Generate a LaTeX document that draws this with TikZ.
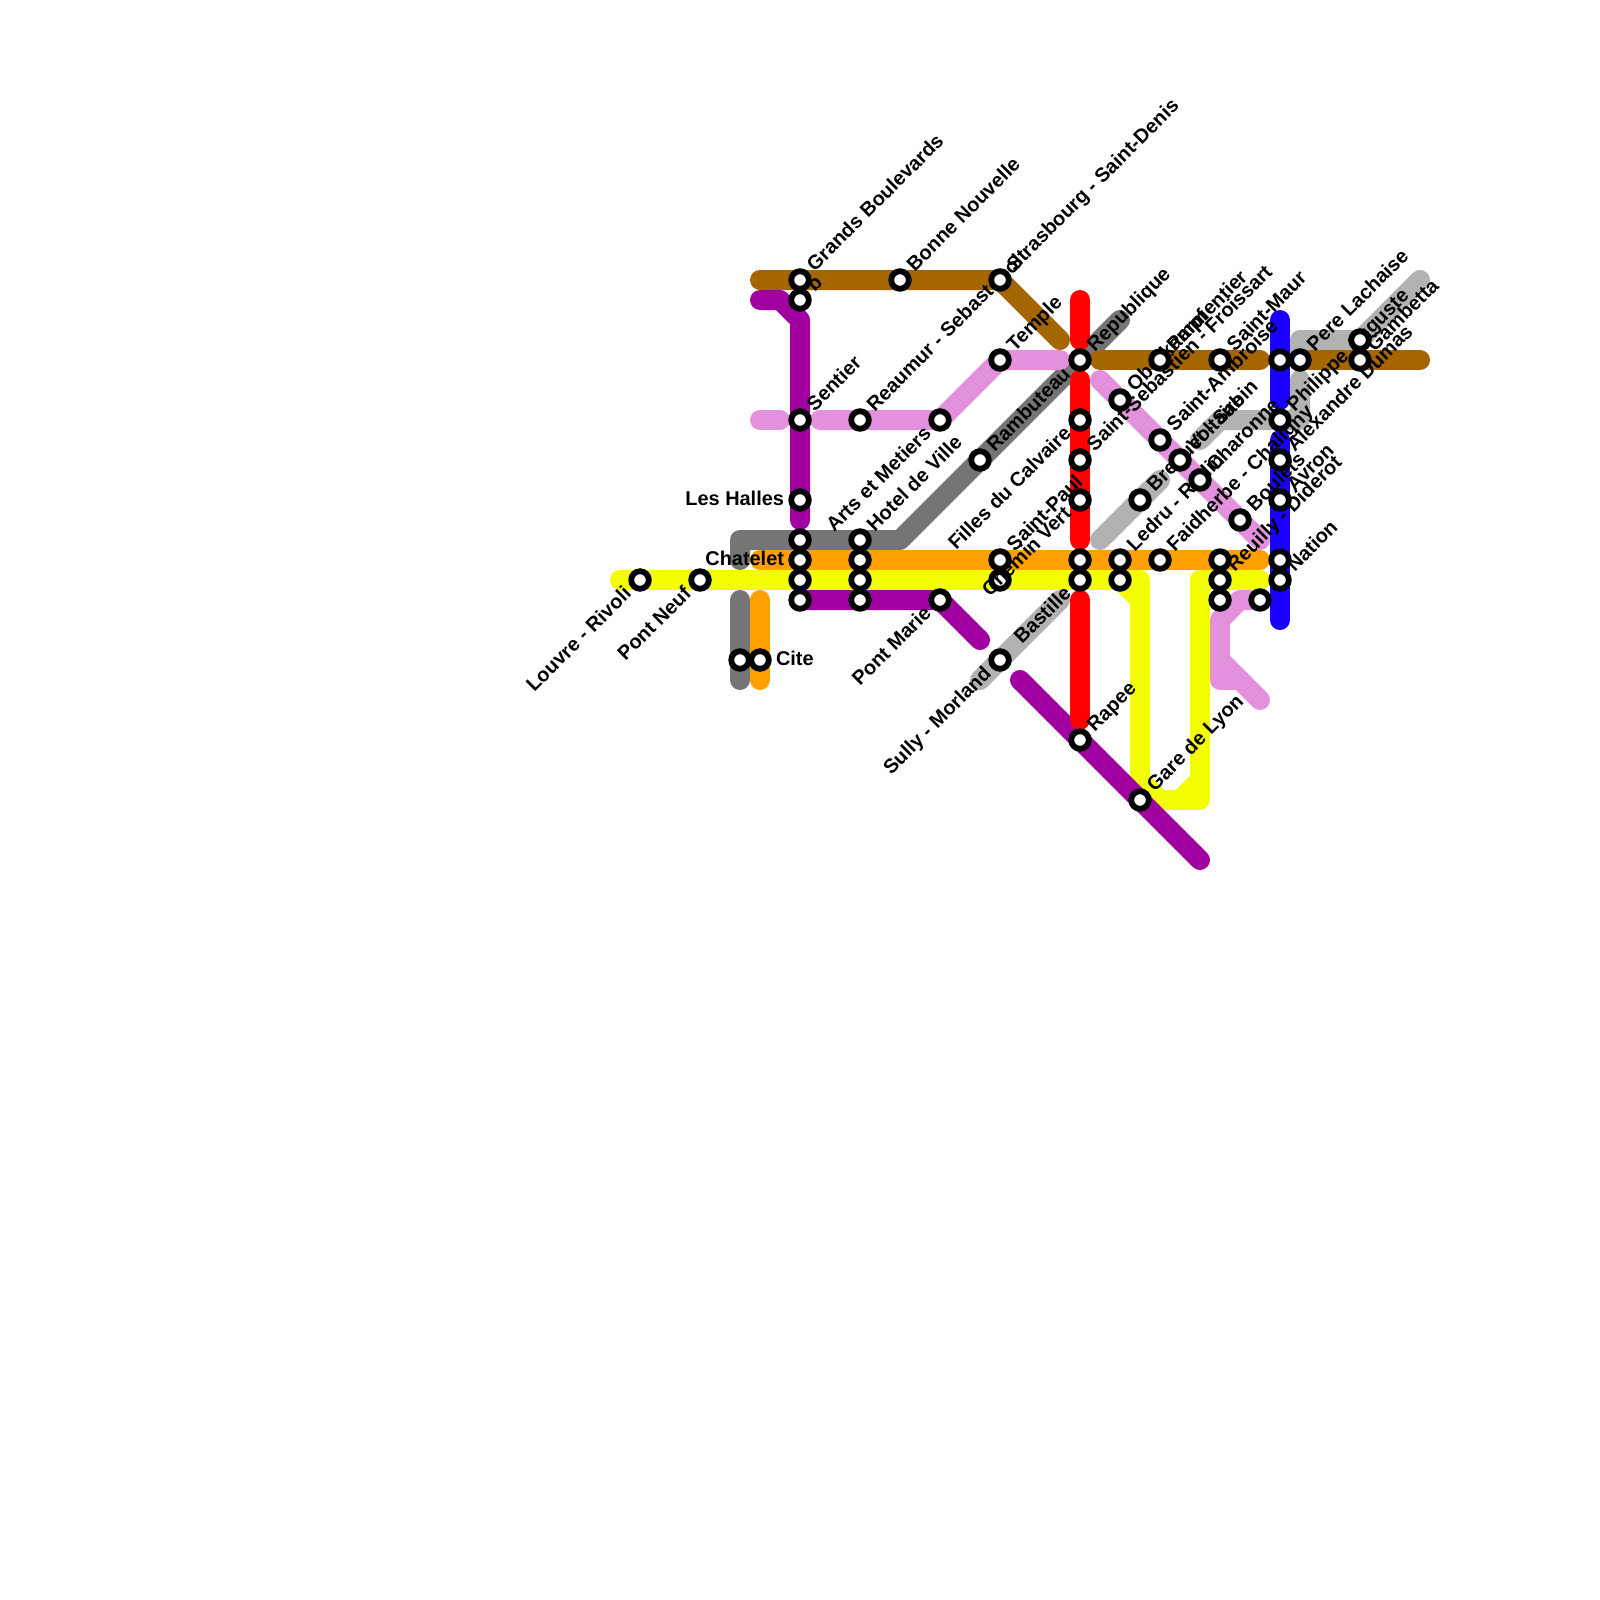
\documentclass[tikz,border=0pt]{standalone}
\usepackage{fontspec}
\setmainfont{Liberation Sans}
\usetikzlibrary{backgrounds}

\definecolor{linebrown}{HTML}{A56600}
\definecolor{linepurple}{HTML}{A000A0}
\definecolor{linepink}{HTML}{E391DC}
\definecolor{linegrey}{HTML}{757575}
\definecolor{linesilver}{HTML}{B2B2B2}
\definecolor{lineorange}{HTML}{FF9F00}
\definecolor{lineyellow}{HTML}{F3FF00}
\definecolor{linered}{HTML}{FF0000}
\definecolor{lineblue}{HTML}{1A00FF}

\tikzset{
  metro/.style={line width=20bp, line cap=round, line join=round},
  stn/.style={circle, draw=black, fill=white, line width=5.8bp,
              minimum size=17.6bp, inner sep=0pt},
  tag/.style={inner sep=0pt, outer sep=0pt,
              font=\bfseries\fontsize{20}{20}\selectfont},
  tagup/.style={tag, rotate=45, anchor=base west, xshift=16bp, yshift=-5bp},
  tagdown/.style={tag, rotate=45, anchor=base east, xshift=-16bp, yshift=-5bp},
  tagleft/.style={tag, anchor=base east, xshift=-16bp, yshift=-5bp},
  tagright/.style={tag, anchor=base west, xshift=16bp, yshift=-5bp},
}

\begin{document}
\begin{tikzpicture}[x=1bp, y=-1bp]
  \useasboundingbox (0,0) rectangle (1600,1600);

  \node[stn] (louvre) at (640,580) {};
  \node[stn] (neuf) at (700,580) {};
  \node[stn] (quai) at (740,660) {};
  \node[stn] (cite) at (760,660) {};
  \node[stn] (grands) at (800,280) {};
  \node[stn] (bourse) at (800,300) {};
  \node[stn] (sentier) at (800,420) {};
  \node[stn] (halles) at (800,500) {};
  \node[stn] (chatA) at (800,540) {};
  \node[stn] (chatelet) at (800,560) {};
  \node[stn] (chatB) at (800,580) {};
  \node[stn] (chatC) at (800,600) {};
  \node[stn] (reaumur) at (860,420) {};
  \node[stn] (hotel) at (860,540) {};
  \node[stn] (hotelA) at (860,560) {};
  \node[stn] (hotelB) at (860,580) {};
  \node[stn] (hotelC) at (860,600) {};
  \node[stn] (bonne) at (900,280) {};
  \node[stn] (arts) at (940,420) {};
  \node[stn] (marie) at (940,600) {};
  \node[stn] (rambuteau) at (980,460) {};
  \node[stn] (strasbourg) at (1000,280) {};
  \node[stn] (temple) at (1000,360) {};
  \node[stn] (paul) at (1000,560) {};
  \node[stn] (paulA) at (1000,580) {};
  \node[stn] (sully) at (1000,660) {};
  \node[stn] (republique) at (1080,360) {};
  \node[stn] (filles) at (1080,420) {};
  \node[stn] (froissart) at (1080,460) {};
  \node[stn] (chemin) at (1080,500) {};
  \node[stn] (bastA) at (1080,560) {};
  \node[stn] (bastille) at (1080,580) {};
  \node[stn] (rapee) at (1080,740) {};
  \node[stn] (oberkampf) at (1120,400) {};
  \node[stn] (ledru) at (1120,560) {};
  \node[stn] (ledruA) at (1120,580) {};
  \node[stn] (breguet) at (1140,500) {};
  \node[stn] (lyon) at (1140,800) {};
  \node[stn] (parmentier) at (1160,360) {};
  \node[stn] (ambroise) at (1160,440) {};
  \node[stn] (faidherbe) at (1160,560) {};
  \node[stn] (voltaire) at (1180,460) {};
  \node[stn] (charonne) at (1200,480) {};
  \node[stn] (maur) at (1220,360) {};
  \node[stn] (reuillyA) at (1220,560) {};
  \node[stn] (reuilly) at (1220,580) {};
  \node[stn] (reuillyB) at (1220,600) {};
  \node[stn] (boulets) at (1240,520) {};
  \node[stn] (picpus) at (1260,600) {};
  \node[stn] (menil) at (1280,360) {};
  \node[stn] (philippe) at (1280,420) {};
  \node[stn] (dumas) at (1280,460) {};
  \node[stn] (avron) at (1280,500) {};
  \node[stn] (nationA) at (1280,560) {};
  \node[stn] (nation) at (1280,580) {};
  \node[stn] (lachaise) at (1300,360) {};
  \node[stn] (auguste) at (1360,340) {};
  \node[stn] (gambetta) at (1360,360) {};

  \node[tagdown] (tchemin) at (chemin) {Chemin Vert};

  \coordinate (greyA) at (740,560);
  \coordinate (greyB) at (740,540);
  \coordinate (greyC) at (900,540);
  \coordinate (greyD) at (1120,320);
  \coordinate (greyE) at (740,600);
  \coordinate (greyF) at (740,680);
  \coordinate (silvA) at (1200,440);
  \coordinate (silvB) at (1220,420);
  \coordinate (silvC) at (1300,420);
  \coordinate (silvD) at (1300,380);
  \coordinate (silvE) at (1300,340);
  \coordinate (silvF) at (1420,280);
  \coordinate (silvG) at (1100,540);
  \coordinate (silvH) at (1160,480);
  \coordinate (silvI) at (980,680);
  \coordinate (silvJ) at (1060,600);
  \coordinate (pinkA) at (760,420);
  \coordinate (pinkB) at (780,420);
  \coordinate (pinkC) at (820,420);
  \coordinate (pinkD) at (1060,360);
  \coordinate (pinkE) at (1100,380);
  \coordinate (pinkF) at (1260,540);
  \coordinate (pinkG) at (1240,600);
  \coordinate (pinkH) at (1220,620);
  \coordinate (pinkI) at (1220,660);
  \coordinate (pinkJ) at (1220,680);
  \coordinate (pinkK) at (1240,680);
  \coordinate (pinkL) at (1260,700);
  \coordinate (brownA) at (760,280);
  \coordinate (brownB) at (1060,340);
  \coordinate (brownC) at (1100,360);
  \coordinate (brownD) at (1260,360);
  \coordinate (brownE) at (1420,360);
  \coordinate (orangeA) at (760,560);
  \coordinate (orangeB) at (1260,560);
  \coordinate (orangeC) at (760,600);
  \coordinate (orangeD) at (760,680);
  \coordinate (yellowA) at (620,580);
  \coordinate (yellowB) at (1140,580);
  \coordinate (yellowC) at (1140,600);
  \coordinate (yellowD) at (1140,780);
  \coordinate (yellowE) at (1160,800);
  \coordinate (yellowF) at (1180,800);
  \coordinate (yellowG) at (1200,800);
  \coordinate (yellowH) at (1200,780);
  \coordinate (yellowI) at (1200,580);
  \coordinate (yellowJ) at (1260,580);
  \coordinate (purpleA) at (760,300);
  \coordinate (purpleB) at (780,300);
  \coordinate (purpleC) at (800,320);
  \coordinate (purpleD) at (800,520);
  \coordinate (purpleE) at (980,640);
  \coordinate (purpleF) at (1020,680);
  \coordinate (purpleG) at (1200,860);
  \coordinate (redA) at (1080,300);
  \coordinate (redB) at (1080,340);
  \coordinate (redC) at (1080,380);
  \coordinate (redD) at (1080,540);
  \coordinate (redE) at (1080,600);
  \coordinate (redF) at (1080,720);
  \coordinate (blueA) at (1280,320);
  \coordinate (blueB) at (1280,400);
  \coordinate (blueC) at (1280,440);
  \coordinate (blueD) at (1280,620);

  \begin{scope}[on background layer]
    \fill[white] (0,0) rectangle (1600,1600);
    \draw[metro, linegrey] (greyA) -- (greyB) -- (greyC) -- (greyD);
    \draw[metro, linegrey] (greyE) -- (greyF);
    \draw[metro, linesilver] (silvA) -- (silvB) -- (silvC) -- (silvD);
    \draw[metro, linesilver] (lachaise.center) -- (silvE) -- (auguste.center) -- (silvF);
    \draw[metro, linesilver] (silvG) -- (silvH);
    \draw[metro, linesilver] (silvI) -- (silvJ);
    \draw[metro, linepink] (pinkA) -- (pinkB);
    \draw[metro, linepink] (pinkC) -- (arts.center) -- (temple.center) -- (pinkD);
    \draw[metro, linepink] (pinkE) -- (pinkF);
    \draw[metro, linepink] (picpus.center) -- (pinkG) -- (pinkH) -- (pinkI) -- (pinkL);
    \draw[metro, linepink] (pinkI) -- (pinkJ) -- (pinkK);
    \draw[metro, linebrown] (brownA) -- (strasbourg.center) -- (brownB);
    \draw[metro, linebrown] (brownC) -- (brownD);
    \draw[metro, linebrown] (lachaise.center) -- (brownE);
    \draw[metro, lineorange] (orangeA) -- (orangeB);
    \draw[metro, lineorange] (orangeC) -- (orangeD);
    \draw[metro, lineyellow] (yellowA) -- (yellowB) -- (lyon.center) -- (yellowG) -- (yellowI) -- (yellowJ);
    \draw[metro, lineyellow] (ledruA.center) -- (yellowC);
    \draw[metro, lineyellow] (yellowD) -- (yellowE);
    \draw[metro, lineyellow] (yellowF) -- (yellowH);
    \draw[metro, linepurple] (purpleA) -- (purpleB) -- (purpleC) -- (purpleD);
    \draw[metro, linepurple] (chatC.center) -- (marie.center) -- (purpleE);
    \draw[metro, linepurple] (purpleF) -- (purpleG);
    \draw[metro, linered] (redA) -- (redB);
    \draw[metro, linered] (redC) -- (redD);
    \draw[metro, linered] (redE) -- (redF);
    \draw[metro, lineblue] (blueA) -- (blueB);
    \draw[metro, lineblue] (blueC) -- (blueD);

    \node[tagdown] (tlouvre) at (louvre) {Louvre - Rivoli};
    \node[tagdown] (tneuf) at (neuf) {Pont Neuf};
    \node[tagright] (tcite) at (cite) {Cite};
    \node[tagup] (tgrands) at (grands) {Grands Boulevards};
    \node[tagup] (tbourse) at (bourse) {b};
    \node[tagup] (tsentier) at (sentier) {Sentier};
    \node[tagleft] (thalles) at (halles) {Les Halles};
    \node[tagleft] (tchatelet) at (chatelet) {Chatelet};
    \node[tagup] (treaumur) at (reaumur) {Reaumur - Sebastopol};
    \node[tagup] (thotel) at (hotel) {Hotel de Ville};
    \node[tagup] (tbonne) at (bonne) {Bonne Nouvelle};
    \node[tagdown] (tarts) at (arts) {Arts et Metiers};
    \node[tagdown] (tmarie) at (marie) {Pont Marie};
    \node[tagup] (trambuteau) at (rambuteau) {Rambuteau};
    \node[tagup] (tstrasbourg) at (strasbourg) {Strasbourg - Saint-Denis};
    \node[tagup] (ttemple) at (temple) {Temple};
    \node[tagup] (tpaul) at (paul) {Saint-Paul};
    \node[tagdown] (tsully) at (sully) {Sully - Morland};
    \node[tagup] (trepublique) at (republique) {Republique};
    \node[tagdown] (tfilles) at (filles) {Filles du Calvaire};
    \node[tagup] (tfroissart) at (froissart) {Saint-Sebastien - Froissart};
    \node[tagdown] (tbastille) at (bastille) {Bastille};
    \node[tagup] (trapee) at (rapee) {Rapee};
    \node[tagup] (toberkampf) at (oberkampf) {Oberkampf};
    \node[tagup] (tledru) at (ledru) {Ledru - Rollin};
    \node[tagup] (tbreguet) at (breguet) {Breguet - Sabin};
    \node[tagup] (tlyon) at (lyon) {Gare de Lyon};
    \node[tagup] (tparmentier) at (parmentier) {Parmentier};
    \node[tagup] (tambroise) at (ambroise) {Saint-Ambroise};
    \node[tagup] (tfaidherbe) at (faidherbe) {Faidherbe - Chaligny};
    \node[tagup] (tvoltaire) at (voltaire) {Voltaire};
    \node[tagup] (tcharonne) at (charonne) {Charonne};
    \node[tagup] (tmaur) at (maur) {Saint-Maur};
    \node[tagup] (treuilly) at (reuilly) {Reuilly - Diderot};
    \node[tagup] (tboulets) at (boulets) {Boulets};
    \node[tagup] (tphilippe) at (philippe) {Philippe Auguste};
    \node[tagup] (tdumas) at (dumas) {Alexandre Dumas};
    \node[tagup] (tavron) at (avron) {Avron};
    \node[tagup] (tnation) at (nation) {Nation};
    \node[tagup] (tlachaise) at (lachaise) {Pere Lachaise};
    \node[tagup] (tgambetta) at (gambetta) {Gambetta};
  \end{scope}
\end{tikzpicture}
\end{document}
